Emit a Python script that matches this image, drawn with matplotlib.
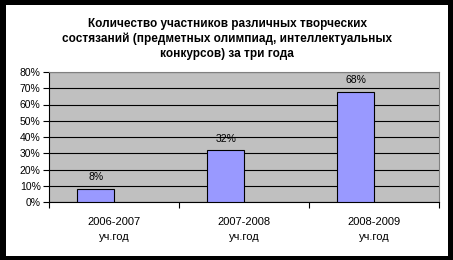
import numpy as np
import matplotlib.pyplot as plt
from matplotlib.patches import Rectangle

plt.rcParams['font.family'] = ['Liberation Sans', 'DejaVu Sans']

categories = ["2006-2007\nуч.год", "2007-2008\nуч.год", "2008-2009\nуч.год"]
values = [8, 32, 68]
value_labels = ["8%", "32%", "68%"]
yticks = [0, 10, 20, 30, 40, 50, 60, 70, 80]

W, H = 453, 260
fig = plt.figure(figsize=(W / 100, H / 100), dpi=100)
fig.patch.set_facecolor("black")
fig.add_artist(Rectangle((6 / W, 4 / H), (448 - 6) / W, (255 - 4) / H,
                         transform=fig.transFigure, facecolor="white",
                         edgecolor="none", zorder=0))

ax = fig.add_axes([49 / W, (H - 202) / H, (439 - 49) / W, (202 - 72) / H])
ax.set_facecolor("#C0C0C0")

x = np.arange(len(categories))
bw = 0.285
off = -0.14
ax.bar(x + off, values, width=bw, color="#9999FF", edgecolor="black",
       linewidth=0.8, zorder=3)
for xi, v, lab in zip(x, values, value_labels):
    ax.text(xi + off, v + 4, lab, ha="center", va="bottom", fontsize=7.5)

ax.set_xlim(-0.5, len(categories) - 0.5)
ax.set_ylim(0, 80)
ax.set_yticks(yticks)
ax.set_yticklabels([f"{t}%" for t in yticks], fontsize=7.5)
ax.yaxis.grid(True, color="black", linewidth=0.8, zorder=1)
ax.set_axisbelow(True)

ax.set_xticks(np.arange(len(categories) + 1) - 0.5)
ax.set_xticklabels([])
ax.set_xticks(x, minor=True)
ax.set_xticklabels(categories, minor=True, fontsize=8, linespacing=1.55)
ax.tick_params(axis="x", which="minor", length=0, pad=11)
ax.tick_params(axis="x", which="major", length=4, width=0.8)
ax.tick_params(axis="y", length=4, width=0.8, pad=2)

for s in ["top", "right"]:
    ax.spines[s].set_color("#808080")
    ax.spines[s].set_linewidth(0.8)
for s in ["left", "bottom"]:
    ax.spines[s].set_color("black")
    ax.spines[s].set_linewidth(0.8)

fig.text(227 / W, 1 - 39 / H,
         "Количество участников различных творческих\n"
         "состязаний (предметных олимпиад, интеллектуальных\n"
         "конкурсов) за три года",
         ha="center", va="center", fontsize=8.5, fontweight="bold",
         linespacing=1.35)

fig.savefig("out.png", dpi=100, facecolor=fig.get_facecolor())
